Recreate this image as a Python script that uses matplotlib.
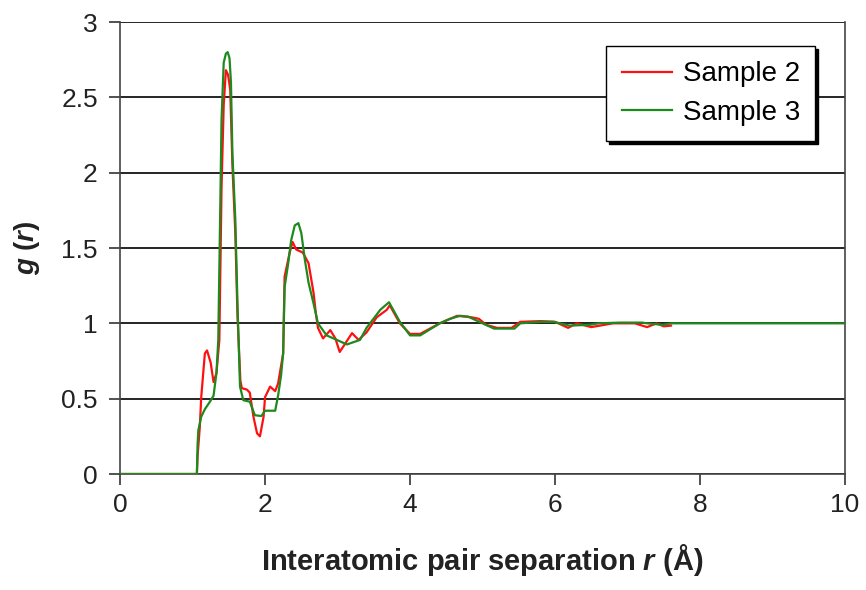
import matplotlib
matplotlib.use("Agg")
import matplotlib.pyplot as plt

plt.rcParams['font.family'] = ['Liberation Sans', 'DejaVu Sans']
plt.rcParams['mathtext.fontset'] = 'custom'
plt.rcParams['mathtext.rm'] = 'Liberation Sans:bold'
plt.rcParams['mathtext.it'] = 'Liberation Sans:bold:italic'
plt.rcParams['mathtext.bf'] = 'Liberation Sans:bold'

# Sample 2 (red)
r_s2 = [0, 1.06, 1.07, 1.10, 1.12, 1.17, 1.20, 1.25, 1.29, 1.33, 1.37, 1.40,
        1.43, 1.46, 1.49, 1.52, 1.55, 1.59, 1.62, 1.66, 1.68, 1.75, 1.79, 1.84,
        1.89, 1.93, 1.98, 2.00, 2.07, 2.14, 2.18, 2.25, 2.27, 2.34, 2.38, 2.43,
        2.52, 2.60, 2.67, 2.70, 2.73, 2.80, 2.90, 2.97, 3.03, 3.20, 3.29, 3.40,
        3.54, 3.68, 3.72, 3.86, 4.00, 4.14, 4.41, 4.65, 4.85, 4.95, 5.05, 5.20,
        5.40, 5.52, 5.80, 6.00, 6.18, 6.30, 6.50, 6.80, 7.10, 7.27, 7.40, 7.50,
        7.60]
g_s2 = [0, 0, 0.12, 0.31, 0.51, 0.80, 0.82, 0.74, 0.61, 0.67, 0.89, 1.90,
        2.45, 2.68, 2.65, 2.55, 2.05, 1.60, 1.05, 0.62, 0.57, 0.56, 0.54, 0.38,
        0.27, 0.25, 0.38, 0.51, 0.58, 0.55, 0.60, 0.80, 1.31, 1.47, 1.54, 1.49,
        1.47, 1.40, 1.20, 1.07, 0.97, 0.90, 0.955, 0.90, 0.81, 0.935, 0.89, 0.94,
        1.04, 1.09, 1.12, 1.00, 0.93, 0.93, 1.00, 1.05, 1.04, 1.03, 0.99, 0.97,
        0.97, 1.01, 1.015, 1.01, 0.97, 1.00, 0.975, 1.00, 1.00, 0.975, 1.00, 0.98,
        0.985]

# Sample 3 (green)
r_s3 = [0, 1.06, 1.07, 1.08, 1.12, 1.17, 1.24, 1.29, 1.33, 1.355, 1.38, 1.40,
        1.43, 1.46, 1.485, 1.51, 1.53, 1.55, 1.59, 1.62, 1.655, 1.70, 1.79, 1.86,
        1.95, 2.00, 2.14, 2.18, 2.22, 2.25, 2.27, 2.32, 2.36, 2.41, 2.46, 2.50,
        2.55, 2.60, 2.67, 2.73, 2.85, 2.99, 3.13, 3.31, 3.40, 3.59, 3.71, 3.86,
        4.00, 4.14, 4.41, 4.55, 4.69, 4.80, 5.00, 5.16, 5.44, 5.52, 5.80, 5.98,
        6.20, 6.48, 6.60, 6.90, 7.20, 7.27, 7.49, 7.60, 10.0]
g_s3 = [0, 0, 0.20, 0.29, 0.38, 0.43, 0.48, 0.52, 0.67, 0.89, 1.69, 2.35,
        2.73, 2.79, 2.80, 2.76, 2.60, 2.13, 1.69, 1.13, 0.58, 0.49, 0.48, 0.39,
        0.385, 0.42, 0.42, 0.52, 0.65, 0.80, 1.24, 1.40, 1.55, 1.65, 1.665, 1.60,
        1.42, 1.27, 1.13, 1.00, 0.92, 0.89, 0.86, 0.89, 0.97, 1.09, 1.14, 1.01,
        0.92, 0.92, 1.00, 1.03, 1.05, 1.045, 1.00, 0.965, 0.965, 1.00, 1.01, 1.01,
        0.985, 0.99, 1.00, 1.005, 1.005, 1.00, 0.99, 1.00, 1.00]

x_ticks = [0, 2, 4, 6, 8, 10]
y_ticks = [0, 0.5, 1, 1.5, 2, 2.5, 3]
y_ticklabels = ['0', '0.5', '1', '1.5', '2', '2.5', '3']

fig = plt.figure(figsize=(8.66, 5.9), dpi=100)
ax = fig.add_axes([0.1386, 0.1966, 0.8372, 0.7661])

ax.plot(r_s2, g_s2, color='#ff1010', lw=1.6, label='Sample 2', zorder=3)
ax.plot(r_s3, g_s3, color='#1e8a1e', lw=1.6, label='Sample 3', zorder=4)

ax.set_xlim(0, 10)
ax.set_ylim(0, 3)
ax.set_xticks(x_ticks)
ax.set_yticks(y_ticks)
ax.set_yticklabels(y_ticklabels)
ax.tick_params(labelsize=19, length=8, width=1.2, color='#333333',
               labelcolor='#222222')
ax.tick_params(axis='y', pad=8)
ax.tick_params(axis='x', pad=6)
ax.yaxis.grid(True, color='black', lw=1.2)
ax.set_axisbelow(True)
for side in ['left', 'bottom', 'right']:
    ax.spines[side].set_color('#444444')
    ax.spines[side].set_linewidth(1.2)
ax.spines['top'].set_visible(False)

ax.set_xlabel(r'Interatomic pair separation $\it{r}$ (Å)', fontsize=21,
              fontweight='bold', color='#222222', labelpad=18)
ax.set_ylabel(r'$\it{g}$ ($\it{r}$)', fontsize=20, fontweight='bold',
              color='#222222', labelpad=14)

leg = ax.legend(loc='upper right', bbox_to_anchor=(0.959, 0.947),
                borderaxespad=0, fontsize=20, fancybox=False,
                shadow={'color': 'black', 'alpha': 1}, handlelength=1.8,
                handletextpad=0.4, labelspacing=0.45, borderpad=0.55)
leg.get_frame().set_edgecolor('black')
leg.get_frame().set_linewidth(1.0)
leg.get_frame().set_alpha(1)

fig.savefig('out.png', dpi=100)
